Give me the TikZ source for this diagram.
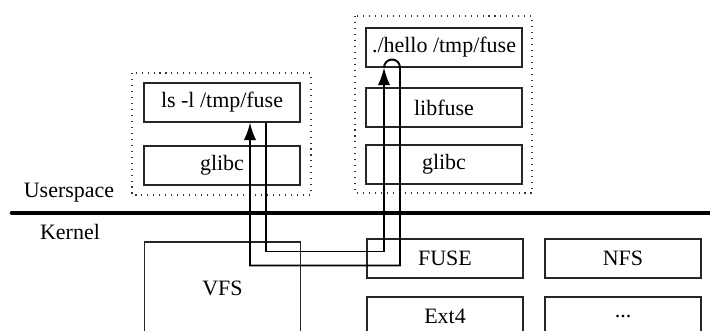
\documentclass[tikz,border=0pt]{standalone}
\usepackage{fontspec}
\setmainfont{Liberation Serif}
\usetikzlibrary{arrows.meta}

\begin{document}
\begin{tikzpicture}[x=0.02cm, y=-0.02cm,
    box/.style={draw=black!85, line width=0.6pt, minimum width=3.12cm, minimum height=0.78cm, inner sep=0pt},
    dotbox/.style={draw=black!80, line width=0.6pt, dash pattern=on 0.6pt off 2.8pt},
    link/.style={line width=1.1pt},
    tip/.style={-{Latex[length=10pt, width=7pt]}}]
  \useasboundingbox (0,0) rectangle (710,331);
  \clip (0,0) rectangle (710,331);
  \fontsize{12.5}{15}\selectfont

  % Userspace: ls
  \draw[dotbox] (132,73) rectangle (311,195);
  \node[box] (ls) at (222,102.5) {ls -l /tmp/fuse};
  \node[box] (glibcL) at (222,165.5) {glibc};

  % Userspace: hello
  \draw[dotbox] (355,16) rectangle (532,193);
  \node[box] (hello) at (444,47.5) {./hello /tmp/fuse};
  \node[box] (libfuse) at (444,107.5) {libfuse};
  \node[box] (glibcR) at (444,164.5) {glibc};

  % Separation
  \draw[line width=2.6pt, line cap=round] (12,213) -- (712,213);
  \node (user) at (69,193) {Userspace};
  \node (kernel) at (70,232) {Kernel};

  % Kernel
  \node[box, minimum height=1.84cm] (vfs) at (222.5,288) {VFS};
  \node[box] (fuse) at (445,258.5) {FUSE};
  \node[box] (nfs) at (623,258.5) {NFS};
  \node[box] (ext4) at (445,316.5) {Ext4};
  \node[box] (more) at (623,316.5) {...};

  % Chemin de la requete
  \draw[link, tip] ([xshift=0.88cm]ls.south) -- ++(0,129) -| ([xshift=-1.2cm]hello.south);
  \draw[link, tip] ([xshift=-1.2cm]hello.south) arc[start angle=180, end angle=0, radius=0.16cm]
    -- ++(0,198) -| ([xshift=0.56cm]ls.south);
\end{tikzpicture}
\end{document}
